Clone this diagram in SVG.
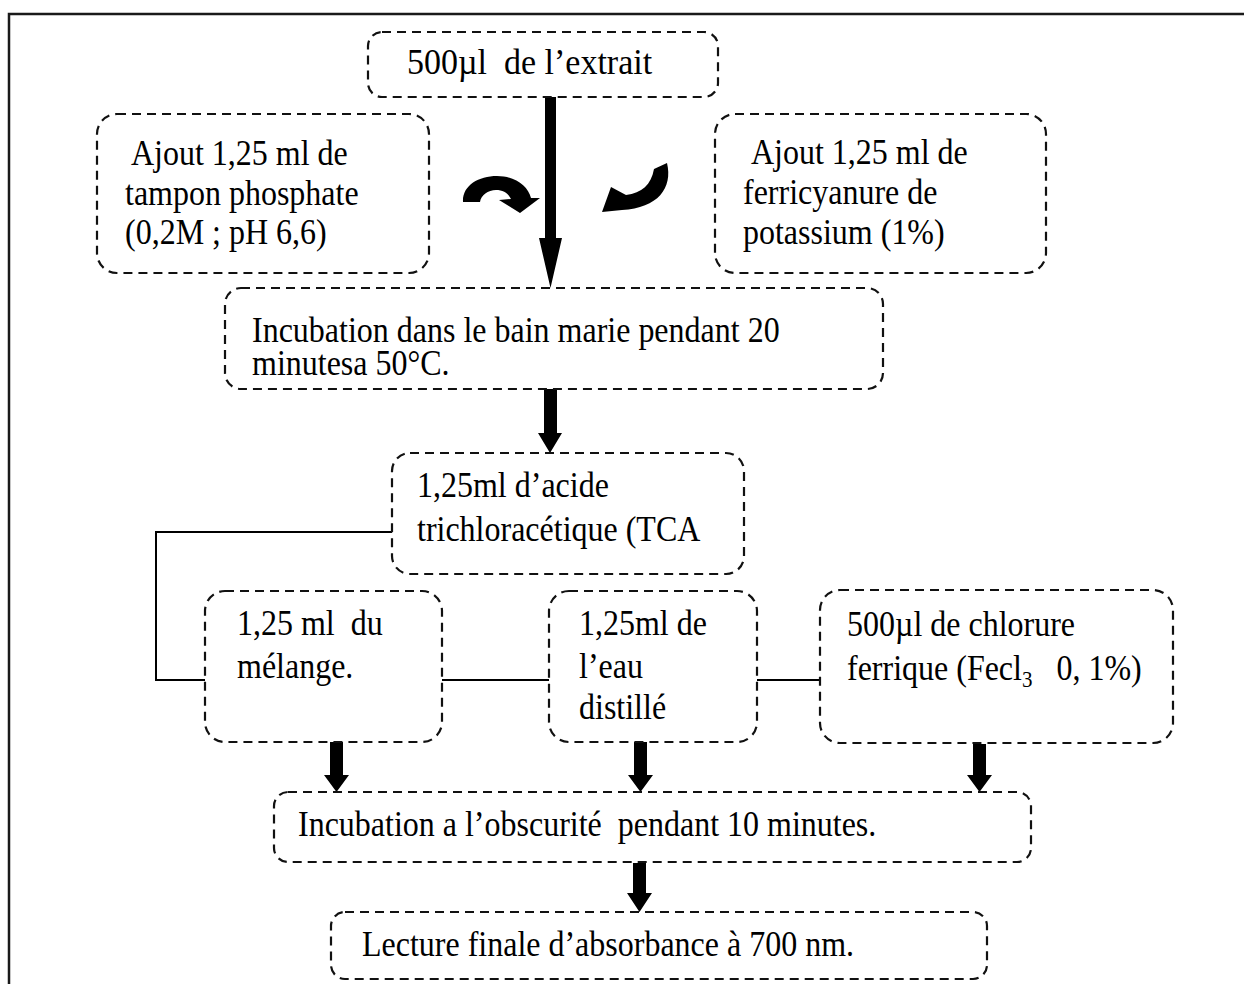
<svg xmlns="http://www.w3.org/2000/svg" width="1244" height="984" viewBox="0 0 1244 984">
<style>
.box{fill:none;stroke:#111;stroke-width:2.2;stroke-dasharray:9 6}
.t{font-family:"Liberation Serif","Times New Roman",serif;font-size:32px;fill:#000}
.ln{fill:none;stroke:#000;stroke-width:2}
.ar{fill:#000;stroke:none}
</style>
<rect width="1244" height="984" fill="#fff"/>
<path d="M9,984 V14 H1244" fill="none" stroke="#1a1a1a" stroke-width="2.5"/>

<g id="connectors">
  <path class="ar" d="M545,97 H556 V238 H562 L550.5,288 L539,238 H545 Z"/>
  <path class="ar" d="M463,202 C462,186 478,176 497,176 C515,176 528,186 531,198 L540,198 L520,213 L499,200 L511,199 C508,193 503,190 496,190 C488,190 481,195 480,202 Z"/>
  <path class="ar" d="M667,163 C673,188 658,208 622,210 L602,212 L611,187 L626,195 C642,193 651,185 654,169 Z"/>
  <path class="ar" d="M544,389 H557 V433 H562 L550,453 L538,433 H544 Z"/>
  <path class="ln" d="M392,532 H156 V680 H205"/>
  <path class="ln" d="M442,680 H549"/>
  <path class="ln" d="M757,680 H820"/>
  <path class="ar" d="M330,742 H343 V775 H349 L336.5,792 L324,775 H330 Z"/>
  <path class="ar" d="M634,742 H647 V775 H653 L640.5,792 L628,775 H634 Z"/>
  <path class="ar" d="M973,744 H986 V775 H992 L979.5,792 L967,775 H973 Z"/>
  <path class="ar" d="M633,863 H646 V893 H652 L639.5,912 L627,893 H633 Z"/>
</g>

<g id="n-extrait">
  <rect class="box" x="368" y="32" width="350" height="65" rx="14"/>
  <text class="t" style="font-size:34px" transform="matrix(1 0 0 1.04 407 74)" xml:space="preserve">500µl  de l’extrait</text>
</g>

<g id="n-tampon">
  <rect class="box" x="97" y="114" width="332" height="159" rx="20"/>
  <text class="t" transform="matrix(1 0 0 1.1 131 165)">Ajout 1,25 ml de</text>
  <text class="t" transform="matrix(1 0 0 1.1 125 205)">tampon phosphate</text>
  <text class="t" transform="matrix(1 0 0 1.1 125 244)">(0,2M ; pH 6,6)</text>
</g>

<g id="n-ferricyanure">
  <rect class="box" x="715" y="114" width="331" height="159" rx="20"/>
  <text class="t" transform="matrix(1 0 0 1.1 751 164)">Ajout 1,25 ml de</text>
  <text class="t" transform="matrix(1 0 0 1.1 743 204)">ferricyanure de</text>
  <text class="t" transform="matrix(1 0 0 1.1 743 244)">potassium (1%)</text>
</g>

<g id="n-incubation1">
  <rect class="box" x="225" y="288" width="658" height="101" rx="16"/>
  <text class="t" transform="matrix(1 0 0 1.1 252 342)">Incubation dans le bain marie pendant 20</text>
  <text class="t" transform="matrix(1 0 0 1.1 252 375)">minutesa 50°C.</text>
</g>

<g id="n-tca">
  <rect class="box" x="392" y="453" width="352" height="121" rx="18"/>
  <text class="t" transform="matrix(1 0 0 1.1 417 497)">1,25ml d’acide</text>
  <text class="t" transform="matrix(1 0 0 1.1 417 541)">trichloracétique (TCA</text>
</g>

<g id="n-melange">
  <rect class="box" x="205" y="591" width="237" height="151" rx="20"/>
  <text class="t" transform="matrix(1 0 0 1.1 237 635)" xml:space="preserve">1,25 ml  du</text>
  <text class="t" transform="matrix(1 0 0 1.1 237 678)">mélange.</text>
</g>

<g id="n-eau">
  <rect class="box" x="549" y="591" width="208" height="151" rx="20"/>
  <text class="t" transform="matrix(1 0 0 1.1 579 635)">1,25ml de</text>
  <text class="t" transform="matrix(1 0 0 1.1 579 678)">l’eau</text>
  <text class="t" transform="matrix(1 0 0 1.1 579 719)">distillé</text>
</g>

<g id="n-chlorure">
  <rect class="box" x="820" y="590" width="353" height="153" rx="20"/>
  <text class="t" transform="matrix(1 0 0 1.1 847 636)">500µl de chlorure</text>
  <text class="t" transform="matrix(1 0 0 1.1 847 680)" xml:space="preserve">ferrique (Fecl<tspan font-size="21" dy="6">3</tspan><tspan dy="-6">   0, 1%)</tspan></text>
</g>

<g id="n-obscurite">
  <rect class="box" x="274" y="792" width="757" height="70" rx="14"/>
  <text class="t" transform="matrix(1 0 0 1.1 298 836)" xml:space="preserve">Incubation a l’obscurité  pendant 10 minutes.</text>
</g>

<g id="n-lecture">
  <rect class="box" x="331" y="912" width="656" height="67" rx="14"/>
  <text class="t" transform="matrix(1 0 0 1.1 362 956)">Lecture finale d’absorbance à 700 nm.</text>
</g>
</svg>
